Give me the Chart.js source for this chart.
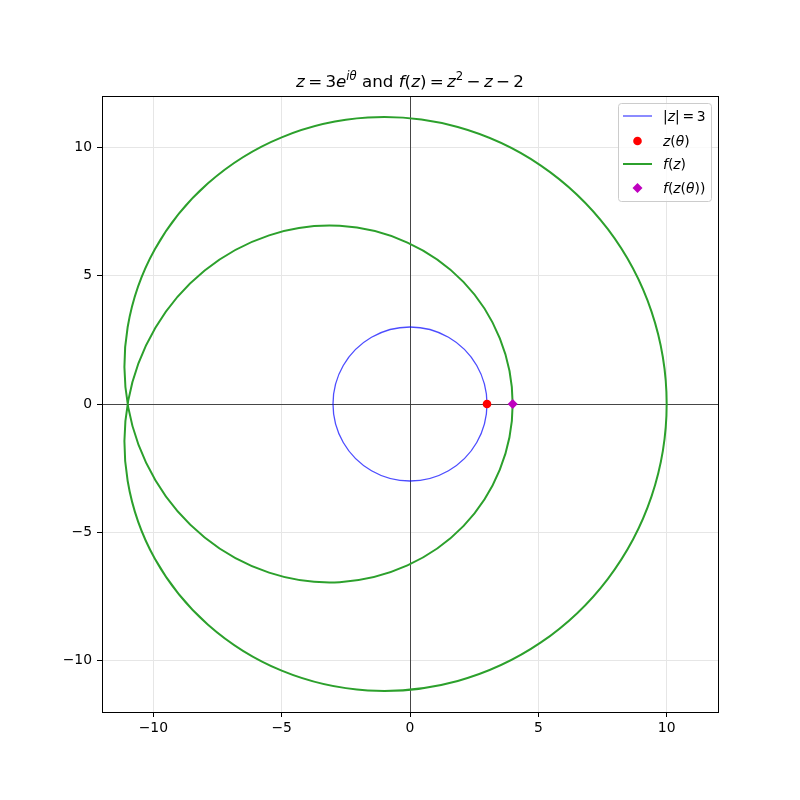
<!DOCTYPE html>
<html>
<head>
<meta charset="utf-8">
<script src="https://cdn.jsdelivr.net/npm/chart.js@4.4.0/dist/chart.umd.min.js"></script>
<style>body{margin:0;background:#fff}</style>
</head>
<body>
<canvas id="c" width="800" height="800"></canvas>
<script>
// |z| = 3, read every 30 degrees (closed curve, first point not repeated)
var circleX = [3, 2.6, 1.5, 0, -1.5, -2.6, -3, -2.6, -1.5, 0, 1.5, 2.6];
var circleY = [0, 1.5, 2.6, 3, 2.6, 1.5, 0, -1.5, -2.6, -3, -2.6, -1.5];
// image curve f(z), read every 10 degrees of theta (closed)
var fX = [4, 3.50, 2.08, -0.10, -2.74, -5.49, -8.00, -9.92, -10.98, -11.00, -9.94, -7.87, -5.00, -1.64, 1.86, 5.10, 7.71, 9.41, 10.00,
          9.41, 7.71, 5.10, 1.86, -1.64, -5.00, -7.87, -9.94, -11.00, -10.98, -9.92, -8.00, -5.49, -2.74, -0.10, 2.08, 3.50];
var fY = [0, 2.56, 4.76, 6.29, 6.94, 6.57, 5.20, 2.97, 0.12, -3.00, -6.03, -8.60, -10.39, -11.16, -10.79, -9.29, -6.81, -3.60, 0,
          3.60, 6.81, 9.29, 10.79, 11.16, 10.39, 8.60, 6.03, 3.00, -0.12, -2.97, -5.20, -6.57, -6.94, -6.29, -4.76, -2.56];
var zPoint = [3, 0];
var fPoint = [4, 0];
var xTicks = [-10, -5, 0, 5, 10];
var yTicks = [-10, -5, 0, 5, 10];

function pts(xs, ys){ return xs.map(function(x, i){ return {x: x, y: ys[i]}; }); }

var FONT = "'DejaVu Sans'";
// draw text pieces: 'i' italic (math variable), 's' raised, 'g' a small math gap
function drawRich(ctx, segs, x, y, size, align){
    function font(s){
        var sz = s.indexOf('s') >= 0 ? size * 0.7 : size;
        return (s.indexOf('i') >= 0 ? 'italic ' : '') + sz + 'px ' + FONT;
    }
    function width(s){
        if(s[1] === 'g') return s[0] * size;
        ctx.font = font(s[1]);
        return ctx.measureText(s[0]).width;
    }
    var w = 0;
    segs.forEach(function(s){ w += width(s); });
    var cx = align === 'center' ? x - w / 2 : x;
    ctx.textBaseline = 'alphabetic';
    ctx.textAlign = 'left';
    segs.forEach(function(s){
        if(s[1] !== 'g'){
            ctx.font = font(s[1]);
            var dy = s[1].indexOf('s') >= 0 ? -size * 0.42 : 0;
            ctx.fillText(s[0], cx, y + dy);
        }
        cx += width(s);
    });
}

var G = [0.2, 'g'];
var titleSegs = [['z','i'],G,['=','n'],G,['3','n'],['e','i'],['i\u03b8','si'],[' and ','n'],['f','i'],['(','n'],['z','i'],[')','n'],G,['=','n'],G,
                 ['z','i'],['2','sn'],G,['\u2212','n'],G,['z','i'],G,['\u2212','n'],G,['2','n']];
var legendItems = [
    {segs: [['|','n'],['z','i'],['|','n'],G,['=','n'],G,['3','n']], kind: 'line', color: 'rgba(0,0,255,0.7)', w: 1.3},
    {segs: [['z','i'],['(','n'],['\u03b8','i'],[')','n']], kind: 'dot', color: 'red'},
    {segs: [['f','i'],['(','n'],['z','i'],[')','n']], kind: 'line', color: '#2ca02c', w: 2},
    {segs: [['f','i'],['(','n'],['z','i'],['(','n'],['\u03b8','i'],['))','n']], kind: 'diamond', color: '#bf00bf'}
];
var legendRows = [116, 141, 164, 188];

var decor = {
    id: 'decor',
    beforeDatasetsDraw: function(chart){
        // the two curves are closed: join last point back to first, spline all round
        chart.data.datasets.forEach(function(ds, i){
            var line = chart.getDatasetMeta(i).dataset;
            if(line && ds.closed){
                line._loop = true;
                line._fullLoop = true;
                line._segments = undefined;
                line._pointsUpdated = false;
                line.updateControlPoints(chart.chartArea, 'x');
                line._path = undefined;
            }
        });
        // axhline / axvline through the origin
        var ctx = chart.ctx, a = chart.chartArea;
        var x0 = Math.round(chart.scales.x.getPixelForValue(0)) + 0.5;
        var y0 = Math.round(chart.scales.y.getPixelForValue(0)) + 0.5;
        ctx.save();
        ctx.strokeStyle = '#333';
        ctx.lineWidth = 0.9;
        ctx.beginPath();
        ctx.moveTo(a.left, y0); ctx.lineTo(a.right, y0);
        ctx.moveTo(x0, a.top); ctx.lineTo(x0, a.bottom);
        ctx.stroke();
        ctx.restore();
    },
    afterDraw: function(chart){
        var ctx = chart.ctx, a = chart.chartArea;
        ctx.save();
        ctx.strokeStyle = '#000';
        ctx.lineWidth = 1;
        ctx.strokeRect(Math.round(a.left) + 0.5, Math.round(a.top) + 0.5, Math.round(a.right - a.left), Math.round(a.bottom - a.top));
        ctx.fillStyle = '#000';
        drawRich(ctx, titleSegs, (a.left + a.right) / 2, 87, 16.7, 'center');

        // legend
        ctx.beginPath();
        ctx.roundRect(618.5, 103.5, 93, 98, 3);
        ctx.fillStyle = 'rgba(255,255,255,0.8)';
        ctx.fill();
        ctx.strokeStyle = '#cccccc';
        ctx.stroke();
        legendItems.forEach(function(it, i){
            var y = legendRows[i];
            if(it.kind === 'line'){
                ctx.beginPath();
                ctx.moveTo(623, y); ctx.lineTo(652, y);
                ctx.strokeStyle = it.color; ctx.lineWidth = it.w; ctx.stroke();
            } else if(it.kind === 'dot'){
                ctx.beginPath();
                ctx.arc(637.5, y, 4.3, 0, Math.PI * 2);
                ctx.fillStyle = it.color; ctx.fill();
            } else {
                ctx.beginPath();
                ctx.moveTo(637.5, y - 5); ctx.lineTo(642.5, y); ctx.lineTo(637.5, y + 5); ctx.lineTo(632.5, y);
                ctx.closePath();
                ctx.fillStyle = it.color; ctx.fill();
            }
            ctx.fillStyle = '#000';
            drawRich(ctx, it.segs, 663, y + 5, 13.9, 'left');
        });
        ctx.restore();
    }
};

function minus(v){ return String(v).replace('-', '\u2212'); }

new Chart(document.getElementById('c'), {
    type: 'line',
    data: {
        datasets: [
            {data: pts(circleX, circleY), closed: true, borderColor: 'rgba(0,0,255,0.7)', borderWidth: 1.3, pointRadius: 0, tension: 0.34, capBezierPoints: false, order: 4},
            {data: [{x: zPoint[0], y: zPoint[1]}], showLine: false, pointStyle: 'circle', pointRadius: 4.3, backgroundColor: 'red', borderColor: 'red', borderWidth: 0, order: 2},
            {data: pts(fX, fY), closed: true, borderColor: '#2ca02c', borderWidth: 2, pointRadius: 0, tension: 0.34, capBezierPoints: false, order: 3},
            {data: [{x: fPoint[0], y: fPoint[1]}], showLine: false, pointStyle: 'rectRot', pointRadius: 5, backgroundColor: '#bf00bf', borderColor: '#bf00bf', borderWidth: 0, order: 1}
        ]
    },
    options: {
        responsive: false,
        animation: false,
        devicePixelRatio: 1,
        layout: {padding: {top: 96, right: 82, left: 0, bottom: 0}},
        plugins: {legend: {display: false}, tooltip: {enabled: false}, title: {display: false}},
        scales: {
            x: {
                type: 'linear', min: -12, max: 12,
                afterBuildTicks: function(s){ s.ticks = xTicks.map(function(v){ return {value: v}; }); },
                afterFit: function(s){ s.height = 88; },
                grid: {color: '#e6e6e6', tickColor: '#000', tickLength: 5, tickWidth: 1},
                border: {display: false},
                ticks: {color: '#000', font: {family: FONT, size: 13.9}, padding: 3, maxRotation: 0, callback: minus}
            },
            y: {
                type: 'linear', min: -12, max: 12,
                afterBuildTicks: function(s){ s.ticks = yTicks.map(function(v){ return {value: v}; }); },
                afterFit: function(s){ s.width = 102; },
                grid: {color: '#e6e6e6', tickColor: '#000', tickLength: 5, tickWidth: 1},
                border: {display: false},
                ticks: {color: '#000', font: {family: FONT, size: 13.9}, padding: 5, callback: minus}
            }
        }
    },
    plugins: [decor]
});
</script>
</body>
</html>
